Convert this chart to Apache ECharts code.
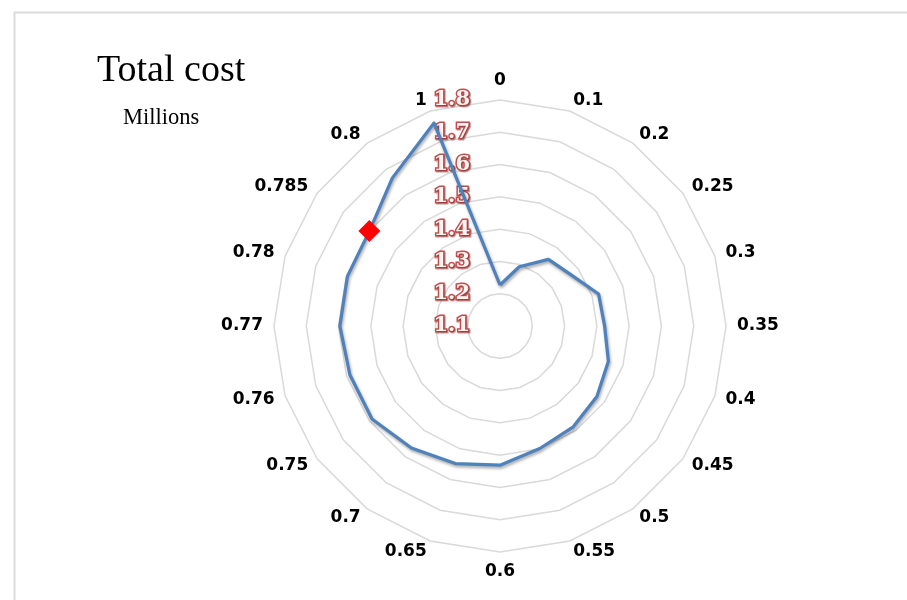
<!DOCTYPE html>
<html>
<head>
<meta charset="utf-8">
<script src="https://cdn.jsdelivr.net/npm/echarts@6/dist/echarts.min.js"></script>
<style>
html,body{margin:0;padding:0;background:#fff;}
#chart{width:907px;height:600px;}
</style>
</head>
<body>
<div id="chart"></div>
<script>
// Categories clockwise from the top
var categories = ['0','0.1','0.2','0.25','0.3','0.35','0.4','0.45','0.5','0.55','0.6','0.65','0.7','0.75','0.76','0.77','0.78','0.785','0.8','1'];
// Total cost (millions) per category
var totalCost = [1.227,1.293,1.355,1.371,1.421,1.424,1.453,1.471,1.486,1.499,1.531,1.548,1.567,1.590,1.589,1.596,1.597,1.600,1.667,1.761];
// Highlighted point
var highlightCategory = '0.785';
var highlightValue = 1.6;
// Radial scale
var radialMin = 1.1;
var radialMax = 1.8;
var radialSplits = 7;

var CX = 500, CY = 326, R = 226;

// ECharts radar runs counter-clockwise; reorder so categories read clockwise
var order = [0];
for (var i = categories.length - 1; i >= 1; i--) order.push(i);

var indicators = order.map(function (idx, k) {
  var ind = { name: categories[idx], min: radialMin, max: radialMax };
  if (k === 0) {
    ind.axisLabel = { show: true };
  }
  return ind;
});
var radarValues = order.map(function (idx) { return totalCost[idx]; });

var chart = echarts.init(document.getElementById('chart'), null, { renderer: 'canvas' });
chart.setOption({
  animation: false,
  backgroundColor: '#ffffff',
  graphic: [{
    type: 'rect',
    left: 12, top: 10,
    shape: { width: 1000, height: 1000 },
    style: { fill: 'none', stroke: '#dcdcdc', lineWidth: 2 }
  }],
  title: [{
    text: 'Total cost',
    left: 92, top: 47,
    textStyle: { fontFamily: 'Liberation Serif', fontSize: 38, fontWeight: 'normal', color: '#000' }
  }, {
    text: 'Millions',
    left: 118, top: 102,
    textStyle: { fontFamily: 'Liberation Serif', fontSize: 22.5, fontWeight: 'normal', color: '#000' }
  }],
  radar: {
    center: [CX, CY],
    radius: R,
    startAngle: 90,
    shape: 'polygon',
    splitNumber: radialSplits,
    indicator: indicators,
    axisName: {
      color: '#000',
      fontFamily: 'DejaVu Sans',
      fontWeight: 'bold',
      fontSize: 17
    },
    nameGap: 11,
    axisLine: { show: false },
    axisTick: { show: false },
    splitArea: { show: false },
    splitLine: { lineStyle: { color: '#d9d9d9', width: 1.5 } },
    axisLabel: {
      show: false,
      margin: 30,
      fontFamily: 'DejaVu Serif',
      fontWeight: 'bold',
      fontSize: 21,
      color: '#fff4f4',
      textBorderColor: '#c0504d',
      textBorderWidth: 3,
      textShadowColor: 'rgba(120,40,40,0.5)',
      textShadowOffsetX: 1,
      textShadowOffsetY: 1,
      textShadowBlur: 1,
      formatter: function (v) { return (+v).toFixed(1); }
    }
  },
  polar: { center: [CX, CY], radius: R },
  angleAxis: {
    type: 'category', data: categories, startAngle: 90, clockwise: true, boundaryGap: false,
    axisLine: { show: false }, axisTick: { show: false }, axisLabel: { show: false }, splitLine: { show: false }
  },
  radiusAxis: {
    type: 'value', min: radialMin, max: radialMax,
    axisLine: { show: false }, axisTick: { show: false }, axisLabel: { show: false }, splitLine: { show: false }
  },
  series: [{
    type: 'radar',
    symbol: 'none',
    lineStyle: {
      color: '#4f81bd', width: 3.2,
      shadowColor: 'rgba(0,0,0,0.35)', shadowBlur: 3, shadowOffsetX: 1, shadowOffsetY: 2
    },
    data: [{ value: radarValues, name: 'Total cost' }]
  }, {
    type: 'scatter',
    coordinateSystem: 'polar',
    symbol: 'diamond',
    symbolSize: 22,
    itemStyle: { color: '#ff0000', opacity: 1 },
    data: [[highlightValue, highlightCategory]],
    z: 5
  }]
});
</script>
</body>
</html>
